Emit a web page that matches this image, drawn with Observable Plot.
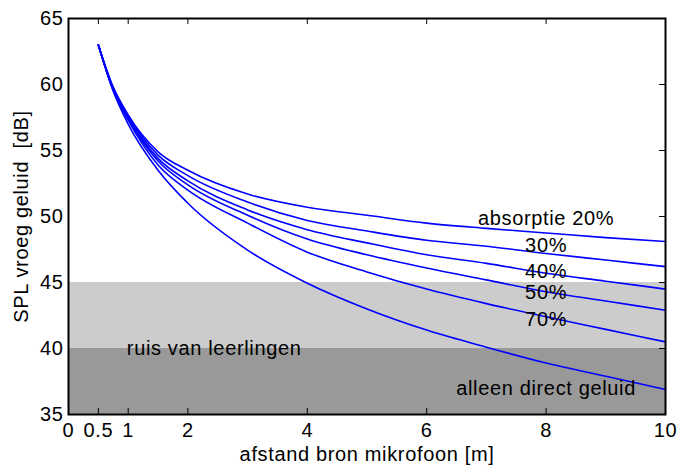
<!DOCTYPE html>
<html><head><meta charset="utf-8">
<script src="https://cdn.jsdelivr.net/npm/d3@7"></script>
<script src="https://cdn.jsdelivr.net/npm/@observablehq/plot@0.6"></script>
<style>
body{margin:0;background:#fff;}
svg text{font-family:"Liberation Sans", Arial, Helvetica, sans-serif; letter-spacing:0.65px;}
</style></head><body><div id="chart"></div>
<script>
// distance from source to microphone [m]
const distances = [0.5, 0.75, 1, 1.5, 2, 3, 4, 5, 6, 7, 8, 9, 10];
// early SPL [dB] for each absorption
const absorptie20 = [63, 59.8, 57.7, 54.9, 53.5, 51.7, 50.7, 50.1, 49.5, 49.1, 48.75, 48.4, 48.1];
const absorptie30 = [63, 59.7, 57.6, 54.65, 53.1, 51.1, 49.7, 48.9, 48.2, 47.75, 47.2, 46.7, 46.2];
const absorptie40 = [63, 59.65, 57.5, 54.4, 52.7, 50.5, 49.0, 48.0, 47.1, 46.45, 45.7, 45.1, 44.5];
const absorptie50 = [63, 59.6, 57.4, 54.2, 52.4, 50.1, 48.3, 47.1, 46.1, 45.2, 44.3, 43.6, 42.9];
const absorptie70 = [63, 59.55, 57.3, 53.9, 52.0, 49.5, 47.3, 45.8, 44.5, 43.4, 42.4, 41.45, 40.5];
const directOnly  = [63, 59.5, 57.0, 53.5, 51.0, 47.45, 44.95, 43.0, 41.4, 40.1, 38.9, 37.9, 36.9];
const seriesNames = ["absorptie 20%", "30%", "40%", "50%", "70%", "alleen direct geluid"];
const seriesValues = [absorptie20, absorptie30, absorptie40, absorptie50, absorptie70, directOnly];
// noise of pupils bands [dB]
const bandLower = [35, 40];
const bandUpper = [40, 45];
const noiseLabel = "ruis van leerlingen";
const xTicks = [0, 0.5, 1, 2, 4, 6, 8, 10];
const yTicks = [35, 40, 45, 50, 55, 60, 65];

const rows = [];
seriesNames.forEach((s, k) => distances.forEach((r, i) => rows.push({series: s, r, spl: seriesValues[k][i]})));
const bands = bandLower.map((lo, i) => ({lo, hi: bandUpper[i]}));

const font = "Liberation Sans, Arial, Helvetica, sans-serif";
const txt = {fontSize: 20, fill: "black", fontFamily: font, textAnchor: "middle"};

const chart = Plot.plot({
  width: 679, height: 466,
  marginLeft: 68, marginRight: 14, marginTop: 18, marginBottom: 52,
  x: {domain: [0, 10]},
  y: {domain: [35, 65]},
  style: {fontFamily: font, fontSize: "20px", color: "black", background: "white", overflow: "visible"},
  marks: [
    Plot.rect([bands[0]], {x1: 0, x2: 10, y1: "lo", y2: "hi", fill: "#999999"}),
    Plot.rect([bands[1]], {x1: 0, x2: 10, y1: "lo", y2: "hi", fill: "#cccccc"}),
    Plot.line(rows, {x: "r", y: "spl", z: "series", stroke: "#0000ff", strokeWidth: 1.6, curve: "monotone-x"}),
    Plot.text([seriesNames[0]], {x: 8, y: 49.85, text: d => d, ...txt}),
    Plot.text([seriesNames[1]], {x: 8, y: 47.8, text: d => d, ...txt}),
    Plot.text([seriesNames[2]], {x: 8, y: 45.8, text: d => d, ...txt}),
    Plot.text([seriesNames[3]], {x: 8, y: 44.26, text: d => d, ...txt}),
    Plot.text([seriesNames[4]], {x: 8, y: 42.17, text: d => d, ...txt}),
    Plot.text([seriesNames[5]], {x: 8, y: 36.95, text: d => d, ...txt}),
    Plot.text([noiseLabel], {x: 2.44, y: 40, text: d => d, ...txt}),
    Plot.tickX(xTicks, {x: d => d, insetTop: 390, stroke: "black"}),
    Plot.tickX(xTicks, {x: d => d, insetBottom: 390, stroke: "black"}),
    Plot.tickY(yTicks, {y: d => d, insetLeft: 591, stroke: "black"}),
    Plot.frame({stroke: "black", strokeWidth: 2}),
    Plot.axisX({ticks: xTicks, tickSize: 0, tickPadding: 8, tickFormat: d => String(d),
      label: "afstand bron mikrofoon [m]", labelAnchor: "center", labelOffset: 46, labelArrow: false}),
    Plot.axisY({ticks: yTicks, tickSize: 0, tickPadding: 5,
      label: "SPL vroeg geluid\u00a0 [dB]", labelAnchor: "center", labelOffset: 55, labelArrow: false})
  ]
});
document.getElementById("chart").appendChild(chart);
</script></body></html>
